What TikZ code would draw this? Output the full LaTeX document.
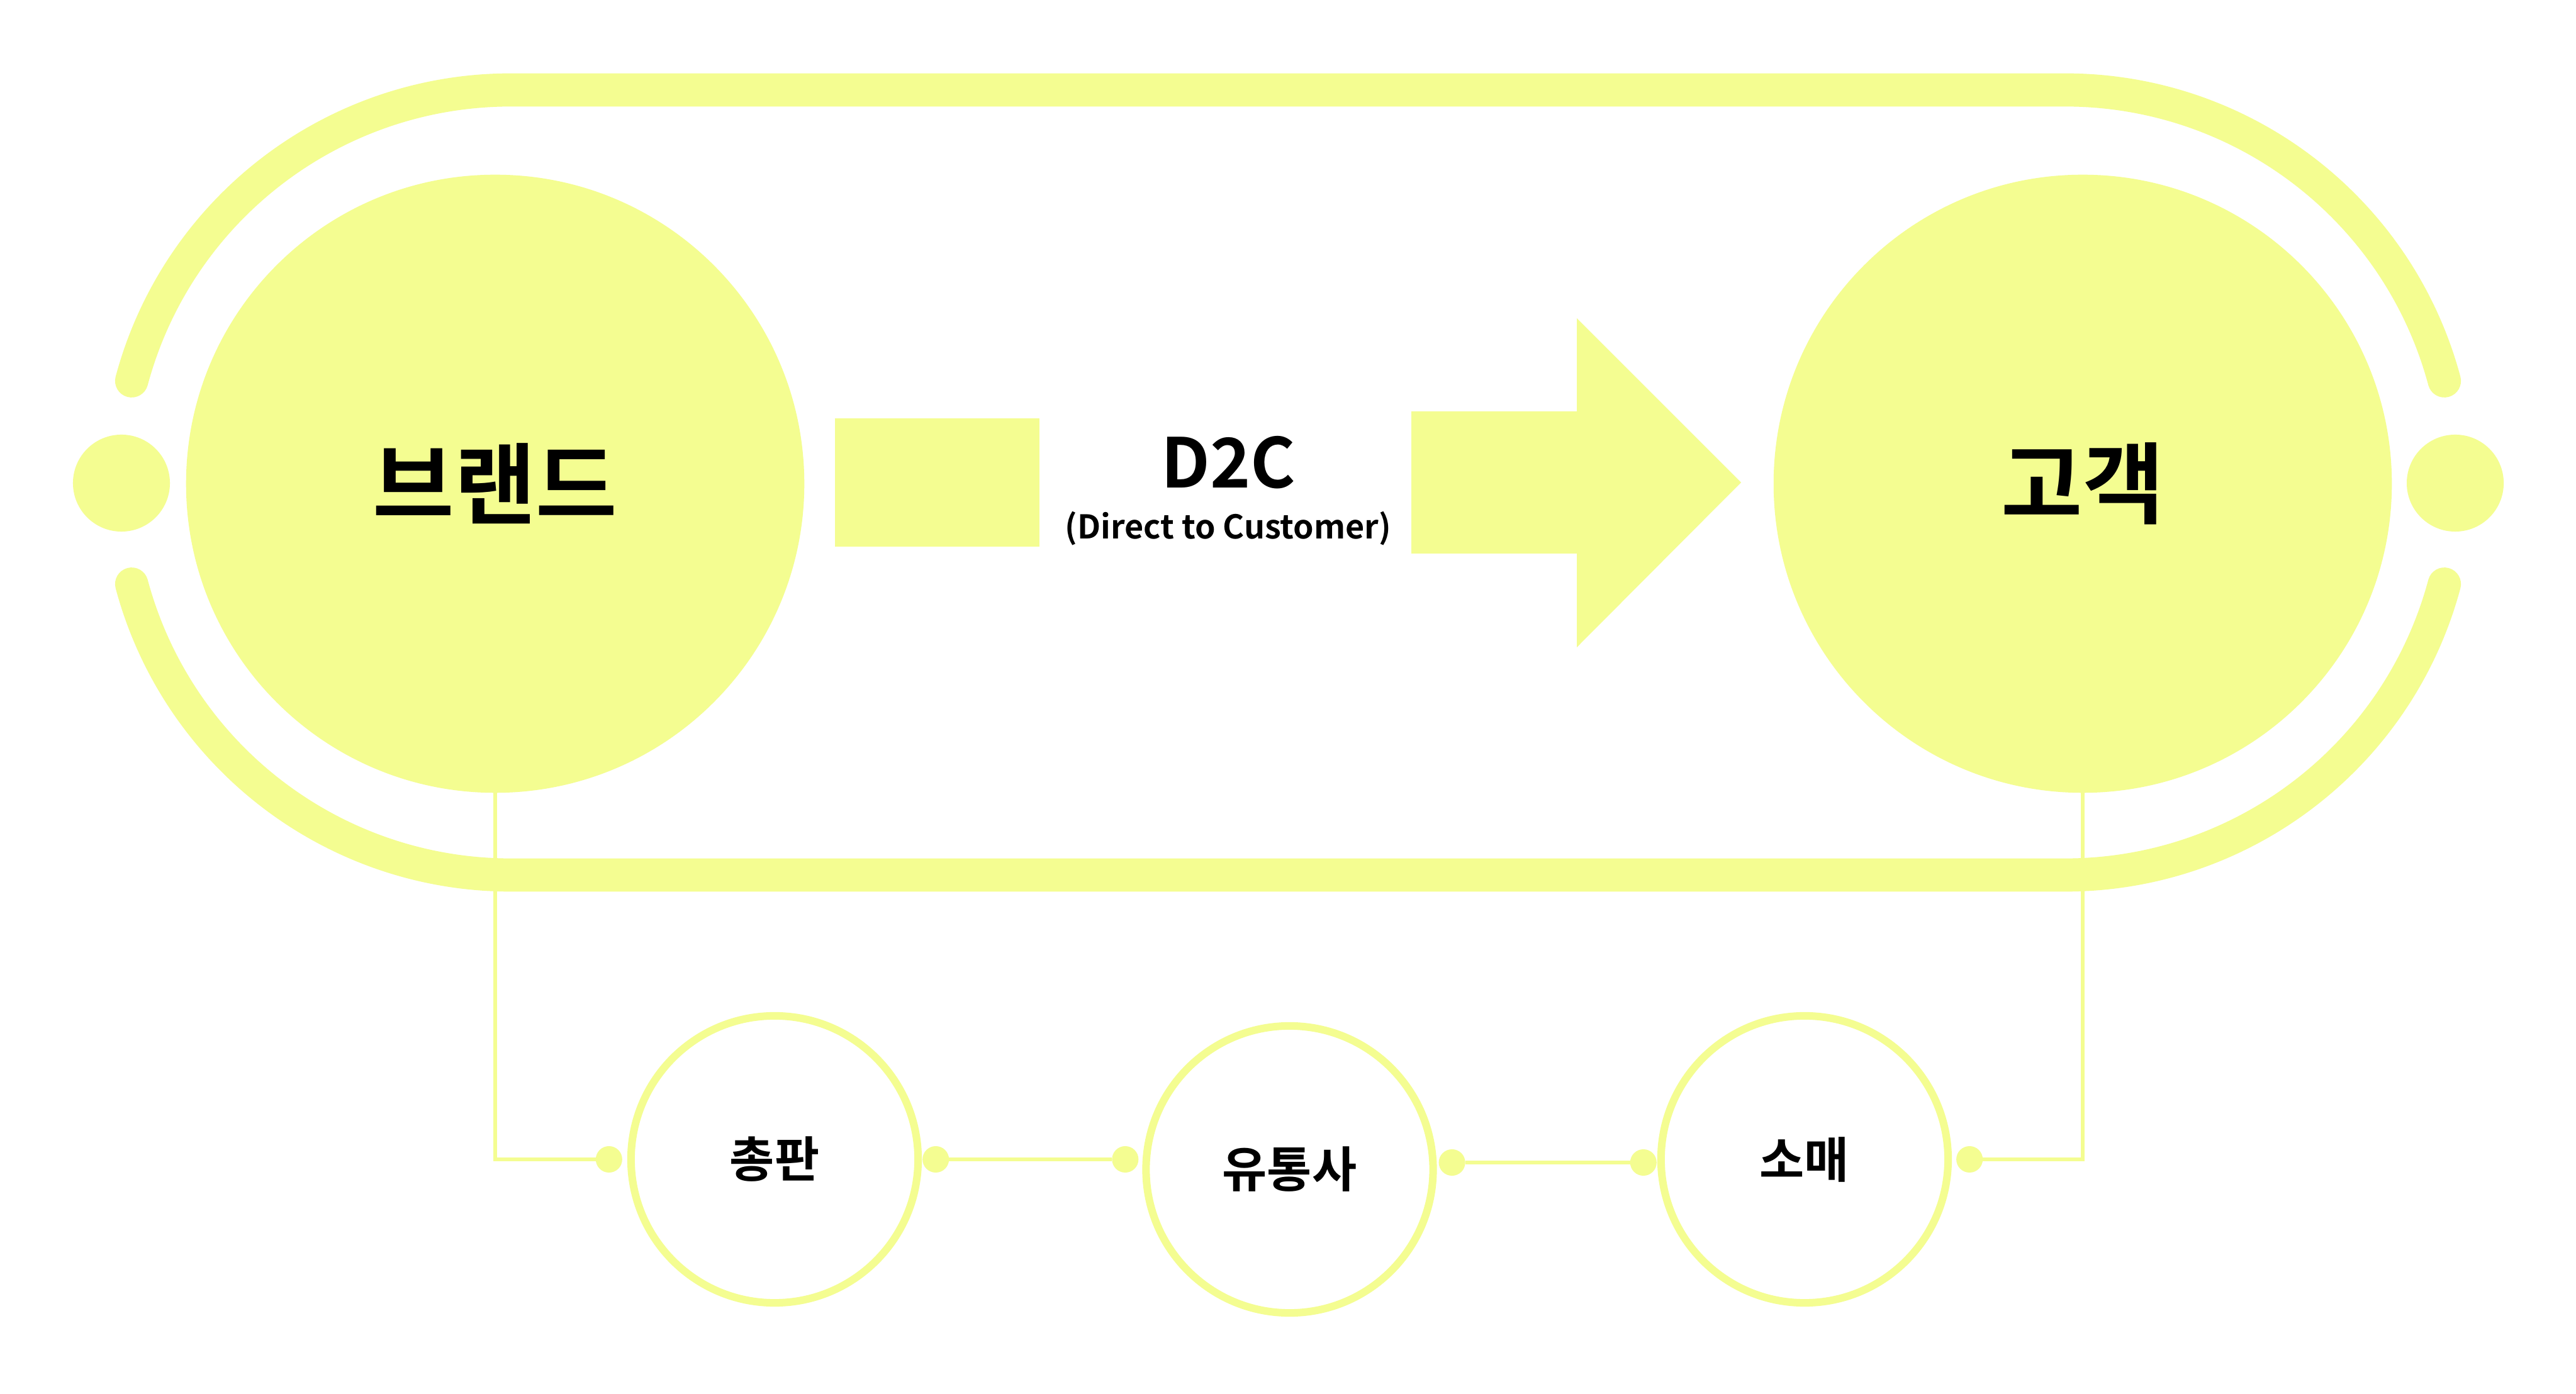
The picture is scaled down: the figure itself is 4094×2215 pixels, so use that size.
\documentclass[tikz,border=0pt]{standalone}
\usepackage{fontspec}
\setmainfont{Noto Sans CJK KR}[BoldFont={Noto Sans CJK KR Bold}]
\usepackage{xcolor}
\definecolor{Pale Lime}{HTML}{F4FD91}
\colorlet{cLime}{Pale Lime}
\colorlet{c0}{cLime}
\usepackage{tikz}
\usetikzlibrary{calc, positioning}
\tikzset{
	node distance = 3.5cm,
	line width = .06cm,
	font = \bfseries,
	big vertex/.style={
		circle,
		fill=c0,
		minimum size=9.82cm,
		inner sep=0pt,
		outer sep=0pt,
		font=\bfseries\fontsize{40}{48}\selectfont
	},
	ring vertex/.style={
		circle,
		draw=c0,
		fill=white,
		line width=.12cm,
		minimum size=4.56cm,
		inner sep=0pt,
		font=\bfseries\fontsize{22}{26}\selectfont
	},
	tiny vertex/.style={
		circle,
		fill=c0,
		minimum size=.42cm,
		inner sep=0pt,
		outer sep=0pt
	},
	side vertex/.style={
		circle,
		fill=c0,
		minimum size=1.54cm,
		inner sep=0pt
	},
	track/.style={
		draw=c0,
		line width=.527cm,
		line cap=round
	},
	edge/.style={
		draw=c0,
		line width=.06cm
	}
}

\begin{document}
\begin{tikzpicture}[x=.01cm, y=.01cm]
\fill[white] (0,0) rectangle (4094,2215);
\useasboundingbox (0,0) rectangle (4094,2215);

% ---
% outer track
% ---
\coordinate (lc) at (812,1448);
\coordinate (rc) at (3282,1448);
\draw[track] ($(lc)+(165:624)$) arc[start angle=165, end angle=90, radius=624] -- ($(rc)+(90:624)$) arc[start angle=90, end angle=15, radius=624];
\draw[track] ($(lc)+(195:624)$) arc[start angle=195, end angle=270, radius=624] -- ($(rc)+(270:624)$) arc[start angle=270, end angle=345, radius=624];
\node[side vertex] (s-0) at (193,1447) {};
\node[side vertex] (s-1) at (3902,1447) {};

% ---
% brand and customer
% ---
\node[big vertex] (brand) at (787,1446) {브랜드};
\node[big vertex] (customer) at (3310,1446) {고객};

% ---
% D2C arrow
% ---
\fill[c0] (1327,1346) rectangle (1652,1550);
\fill[c0] (2243,1335) -- (2506,1335) -- (2506,1186) -- (2767,1448) -- (2506,1709) -- (2506,1561) -- (2243,1561) -- cycle;
\node[inner sep=0pt, font=\bfseries\fontsize{31}{36}\selectfont] (d2c) at (1952,1480) {D2C};
\node[inner sep=0pt, below=.35cm of d2c, font=\bfseries\fontsize{14.8}{17}\selectfont] (d2c-sub) {(Direct to Customer)};

% ---
% channel path
% ---
\node[ring vertex] (ch-0) at (1231,372) {총판};
\node[ring vertex, right=of ch-0, yshift=-.16cm] (ch-1) {유통사};
\node[ring vertex, right=of ch-1, yshift=.16cm] (ch-2) {소매};

\node[tiny vertex, left=.08cm of ch-0] (p-0) {};
\node[tiny vertex, right=.01cm of ch-0] (p-1) {};
\node[tiny vertex, anchor=east] (p-2) at ([xshift=-.06cm]ch-1.west |- p-1) {};
\node[tiny vertex, anchor=west] (p-3) at ([xshift=.03cm, yshift=-.05cm]ch-1.east |- p-1) {};
\node[tiny vertex, anchor=east] (p-4) at ([xshift=-.01cm]ch-2.west |- p-3) {};
\node[tiny vertex, right=.07cm of ch-2] (p-5) {};

\draw[edge] (brand) |- (p-0);
\draw[edge] (p-1) -- (p-2);
\draw[edge] (p-3) -- (p-4);
\draw[edge] (customer) |- (p-5);
\end{tikzpicture}
\end{document}
